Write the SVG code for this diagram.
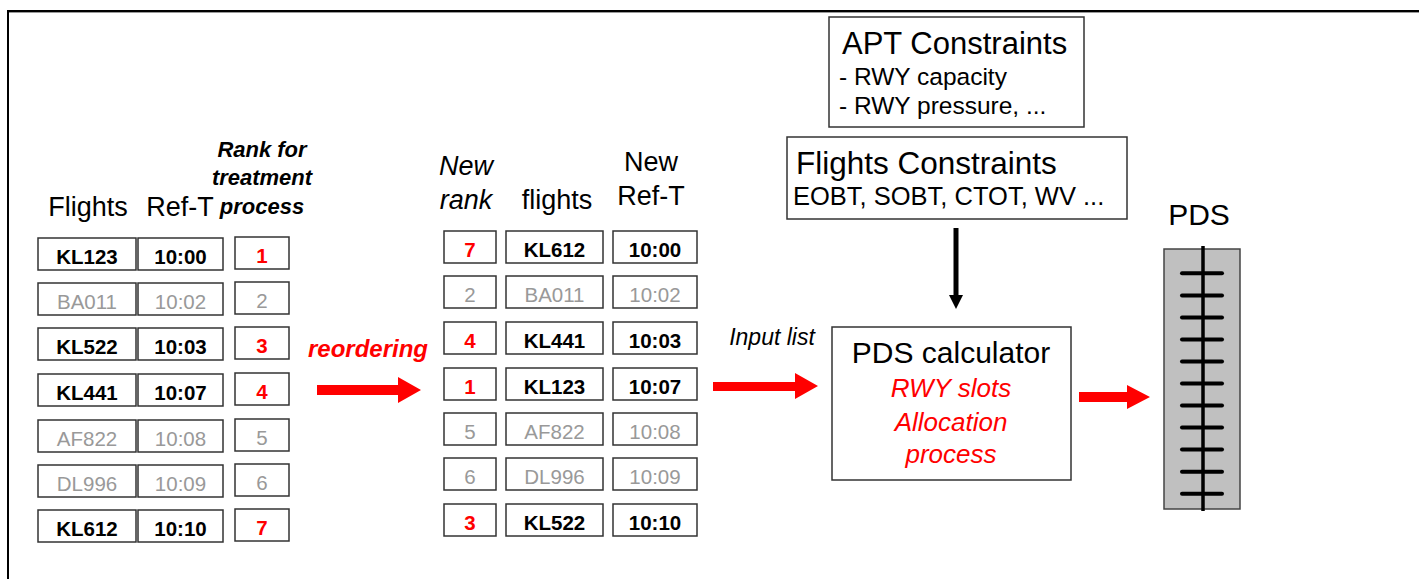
<svg xmlns="http://www.w3.org/2000/svg" width="1419" height="579" viewBox="0 0 1419 579">
<style>
text{font-family:"Liberation Sans",Arial,sans-serif}
.cell{fill:#fff;stroke:#333;stroke-width:1.5}
.b{font-size:20.5px;font-weight:bold;fill:#000;text-anchor:middle}
.g{font-size:20.5px;fill:#999;text-anchor:middle}
.r{font-size:20.5px;font-weight:bold;fill:#f00;text-anchor:middle}
.hd{font-size:27px;fill:#000;text-anchor:middle}
.hi{font-size:27px;font-style:italic;fill:#000;text-anchor:middle}
.hbi{font-size:22px;font-style:italic;font-weight:bold;fill:#000;text-anchor:middle}
.box{fill:#fff;stroke:#333;stroke-width:1.5}
.red{fill:#f00}
.tick{stroke:#000;stroke-width:4;stroke-linecap:round}
</style>
<rect width="1419" height="579" fill="#fff"/>
<g id="frame">
<line x1="8" y1="11" x2="1419" y2="11" stroke="#000" stroke-width="2"/>
<line x1="8" y1="12.5" x2="1419" y2="12.5" stroke="#999" stroke-width="1"/>
<line x1="8" y1="10" x2="8" y2="579" stroke="#000" stroke-width="2"/>
</g>
<g id="left-headers">
<text class="hd" x="88" y="216">Flights</text>
<text class="hd" x="180" y="216">Ref-T</text>
<text class="hbi" x="262" y="157">Rank for</text>
<text class="hbi" x="262" y="185">treatment</text>
<text class="hbi" x="262" y="214">process</text>
</g>
<g id="left-table">
<g id="l1"><rect class="cell" x="38" y="238" width="98" height="32"/><rect class="cell" x="138" y="238" width="85" height="32"/><rect class="cell" x="235" y="237" width="54" height="32"/><text class="b" x="87" y="264">KL123</text><text class="b" x="180.5" y="264">10:00</text><text class="r" x="262" y="263">1</text></g>
<g id="l2"><rect class="cell" x="38" y="283" width="98" height="32"/><rect class="cell" x="138" y="283" width="85" height="32"/><rect class="cell" x="235" y="282" width="54" height="32"/><text class="g" x="87" y="309">BA011</text><text class="g" x="180.5" y="309">10:02</text><text class="g" x="262" y="308">2</text></g>
<g id="l3"><rect class="cell" x="38" y="328" width="98" height="32"/><rect class="cell" x="138" y="328" width="85" height="32"/><rect class="cell" x="235" y="327" width="54" height="32"/><text class="b" x="87" y="354">KL522</text><text class="b" x="180.5" y="354">10:03</text><text class="r" x="262" y="353">3</text></g>
<g id="l4"><rect class="cell" x="38" y="374" width="98" height="32"/><rect class="cell" x="138" y="374" width="85" height="32"/><rect class="cell" x="235" y="373" width="54" height="32"/><text class="b" x="87" y="400">KL441</text><text class="b" x="180.5" y="400">10:07</text><text class="r" x="262" y="399">4</text></g>
<g id="l5"><rect class="cell" x="38" y="420" width="98" height="32"/><rect class="cell" x="138" y="420" width="85" height="32"/><rect class="cell" x="235" y="419" width="54" height="32"/><text class="g" x="87" y="446">AF822</text><text class="g" x="180.5" y="446">10:08</text><text class="g" x="262" y="445">5</text></g>
<g id="l6"><rect class="cell" x="38" y="465" width="98" height="32"/><rect class="cell" x="138" y="465" width="85" height="32"/><rect class="cell" x="235" y="464" width="54" height="32"/><text class="g" x="87" y="491">DL996</text><text class="g" x="180.5" y="491">10:09</text><text class="g" x="262" y="490">6</text></g>
<g id="l7"><rect class="cell" x="38" y="510" width="98" height="32"/><rect class="cell" x="138" y="510" width="85" height="32"/><rect class="cell" x="235" y="509" width="54" height="32"/><text class="b" x="87" y="536">KL612</text><text class="b" x="180.5" y="536">10:10</text><text class="r" x="262" y="535">7</text></g>
</g>
<g id="mid-headers">
<text class="hi" x="466" y="175">New</text>
<text class="hi" x="466" y="209">rank</text>
<text class="hd" x="557" y="209">flights</text>
<text class="hd" x="651" y="171">New</text>
<text class="hd" x="651" y="205">Ref-T</text>
</g>
<g id="mid-table">
<g id="m1"><rect class="cell" x="444" y="231" width="52" height="32"/><rect class="cell" x="506" y="231" width="97" height="32"/><rect class="cell" x="613" y="231" width="84" height="32"/><text class="r" x="470" y="257">7</text><text class="b" x="554.5" y="257">KL612</text><text class="b" x="655" y="257">10:00</text></g>
<g id="m2"><rect class="cell" x="444" y="276" width="52" height="32"/><rect class="cell" x="506" y="276" width="97" height="32"/><rect class="cell" x="613" y="276" width="84" height="32"/><text class="g" x="470" y="302">2</text><text class="g" x="554.5" y="302">BA011</text><text class="g" x="655" y="302">10:02</text></g>
<g id="m3"><rect class="cell" x="444" y="322" width="52" height="32"/><rect class="cell" x="506" y="322" width="97" height="32"/><rect class="cell" x="613" y="322" width="84" height="32"/><text class="r" x="470" y="348">4</text><text class="b" x="554.5" y="348">KL441</text><text class="b" x="655" y="348">10:03</text></g>
<g id="m4"><rect class="cell" x="444" y="368" width="52" height="32"/><rect class="cell" x="506" y="368" width="97" height="32"/><rect class="cell" x="613" y="368" width="84" height="32"/><text class="r" x="470" y="394">1</text><text class="b" x="554.5" y="394">KL123</text><text class="b" x="655" y="394">10:07</text></g>
<g id="m5"><rect class="cell" x="444" y="413" width="52" height="32"/><rect class="cell" x="506" y="413" width="97" height="32"/><rect class="cell" x="613" y="413" width="84" height="32"/><text class="g" x="470" y="439">5</text><text class="g" x="554.5" y="439">AF822</text><text class="g" x="655" y="439">10:08</text></g>
<g id="m6"><rect class="cell" x="444" y="458" width="52" height="32"/><rect class="cell" x="506" y="458" width="97" height="32"/><rect class="cell" x="613" y="458" width="84" height="32"/><text class="g" x="470" y="484">6</text><text class="g" x="554.5" y="484">DL996</text><text class="g" x="655" y="484">10:09</text></g>
<g id="m7"><rect class="cell" x="444" y="504" width="52" height="32"/><rect class="cell" x="506" y="504" width="97" height="32"/><rect class="cell" x="613" y="504" width="84" height="32"/><text class="r" x="470" y="530">3</text><text class="b" x="554.5" y="530">KL522</text><text class="b" x="655" y="530">10:10</text></g>
</g>
<g id="apt-constraints">
<rect class="box" x="829" y="17" width="255" height="110"/>
<text x="842" y="54" font-size="31" fill="#000">APT Constraints</text>
<text x="839" y="85" font-size="24.5" fill="#000">- RWY capacity</text>
<text x="839" y="114" font-size="24.5" fill="#000">- RWY pressure, ...</text>
</g>
<g id="flights-constraints">
<rect class="box" x="787" y="137" width="340" height="82"/>
<text x="796" y="174" font-size="31.5" fill="#000">Flights Constraints</text>
<text x="793" y="205" font-size="25.5" fill="#000">EOBT, SOBT, CTOT, WV ...</text>
</g>
<g id="pds-calculator">
<rect class="box" x="832" y="327" width="239" height="153"/>
<text x="951" y="363" font-size="30" fill="#000" text-anchor="middle">PDS calculator</text>
<text x="951" y="397" font-size="26" font-style="italic" fill="#f00" text-anchor="middle">RWY slots</text>
<text x="951" y="431" font-size="26" font-style="italic" fill="#f00" text-anchor="middle">Allocation</text>
<text x="951" y="463" font-size="26" font-style="italic" fill="#f00" text-anchor="middle">process</text>
</g>
<g id="pds">
<text x="1199" y="225" font-size="30" fill="#000" text-anchor="middle">PDS</text>
<rect x="1164" y="249" width="76" height="260" fill="#c0c0c0" stroke="#444" stroke-width="1.5"/>
<line x1="1203" y1="246" x2="1203" y2="511" stroke="#000" stroke-width="3.5"/>
<line class="tick" x1="1182" y1="273.3" x2="1222" y2="273.3"/>
<line class="tick" x1="1182" y1="295.4" x2="1222" y2="295.4"/>
<line class="tick" x1="1182" y1="317.4" x2="1222" y2="317.4"/>
<line class="tick" x1="1182" y1="339.4" x2="1222" y2="339.4"/>
<line class="tick" x1="1182" y1="361.5" x2="1222" y2="361.5"/>
<line class="tick" x1="1182" y1="383.5" x2="1222" y2="383.5"/>
<line class="tick" x1="1182" y1="405.6" x2="1222" y2="405.6"/>
<line class="tick" x1="1182" y1="427.6" x2="1222" y2="427.6"/>
<line class="tick" x1="1182" y1="449.6" x2="1222" y2="449.6"/>
<line class="tick" x1="1182" y1="471.7" x2="1222" y2="471.7"/>
<line class="tick" x1="1182" y1="493.7" x2="1222" y2="493.7"/>
</g>
<g id="connectors">
<polygon class="red" points="317,385 398,385 398,377 421,390 398,403 398,395 317,395"/>
<text x="368" y="357" font-size="24" font-style="italic" font-weight="bold" fill="#f00" text-anchor="middle">reordering</text>
<polygon class="red" points="713,382 795,382 795,373 818,386 795,399 795,391 713,391"/>
<text x="772" y="345" font-size="23" font-style="italic" fill="#000" text-anchor="middle">Input list</text>
<polygon class="red" points="1079,392 1127,392 1127,385 1150,397 1127,409 1127,402 1079,402"/>
<line x1="956" y1="228" x2="956" y2="297" stroke="#000" stroke-width="5"/>
<polygon points="949,295 963,295 956,309" fill="#000"/>
</g>
</svg>
